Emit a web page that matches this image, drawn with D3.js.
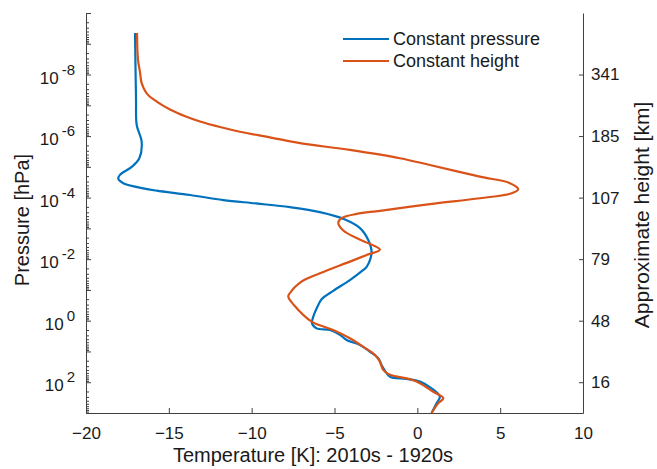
<!DOCTYPE html>
<html>
<head>
<meta charset="utf-8">
<script src="https://cdn.jsdelivr.net/npm/d3@7"></script>
<style>
  body { margin: 0; background: #fff; }
  text { font-family: "Liberation Sans", Arial, sans-serif; fill: #1a1a1a; }
</style>
</head>
<body>
<div class="chart"></div>
<script>
// pressure given as log10(hPa), temperature difference in K
const pressureExpP = [-9.35, -7.17, -6.36, -5.82, -5.28, -5.00, -4.74, -4.61, -4.47, -4.30, -4.225, -4.085, -3.92, -3.81, -3.69, -3.53, -3.29, -3.01, -2.62, -2.23, -1.97, -1.75, -1.65, -1.32, -0.97, -0.70, -0.51, -0.13, 0.08, 0.25, 0.30, 0.46, 0.63, 0.79, 1.01, 1.22, 1.44, 1.62, 1.82, 1.89, 1.98, 2.20, 2.47, 2.68, 3.0];
const tempP = [-17.04, -16.98, -16.94, -16.64, -16.78, -17.24, -17.95, -18.05, -17.75, -16.54, -15.73, -13.72, -11.71, -9.74, -7.69, -5.88, -4.37, -3.46, -2.96, -2.76, -2.86, -3.06, -3.26, -4.07, -5.08, -5.78, -5.98, -6.28, -6.36, -6.08, -5.27, -4.67, -4.27, -3.46, -2.86, -2.36, -2.16, -1.96, -1.65, -0.65, 0.16, 0.86, 1.36, 1.16, 0.86];

const pressureExpH = [-9.35, -8.47, -8.08, -7.72, -7.39, -7.12, -6.864, -6.636, -6.474, -6.295, -6.142, -5.96, -5.77, -5.55, -5.28, -5.06, -4.68, -4.47, -4.27, -4.14, -3.98, -3.79, -3.57, -3.47, -3.34, -3.19, -2.93, -2.61, -2.31, -2.14, -1.92, -1.54, -1.24, -0.90, -0.78, -0.51, 0.03, 0.30, 0.57, 0.85, 1.11, 1.33, 1.60, 1.76, 1.90, 2.03, 2.31, 2.52, 2.68, 3.0];
const tempH = [-16.92, -16.86, -16.74, -16.64, -16.34, -15.73, -14.93, -13.97, -13.12, -11.91, -10.71, -8.90, -7.08, -4.07, -1.05, 0.76, 3.78, 5.59, 6.09, 5.69, 3.78, 0.76, -2.26, -3.66, -4.55, -4.77, -4.47, -3.36, -2.26, -3.04, -4.07, -5.88, -7.08, -7.69, -7.79, -7.45, -6.38, -5.08, -4.07, -3.26, -2.56, -2.26, -2.06, -1.65, -0.45, 0.16, 0.96, 1.57, 1.27, 0.86];

const seriesNames = ["Constant pressure", "Constant height"];
const seriesColors = ["#0072BD", "#D95319"];

const xTicks = [-20, -15, -10, -5, 0, 5, 10];
const pressureLabelExps = [-8, -6, -4, -2, 0, 2];
const heightLabels = ["341", "185", "107", "79", "48", "16"];

const W = 657, H = 469;
const margin = { left: 86, top: 13, right: 74, bottom: 56 };
const width = W - margin.left - margin.right;
const height = H - margin.top - margin.bottom;

const svg = d3.select(".chart").append("svg")
  .attr("width", W)
  .attr("height", H);

const g = svg.append("g")
  .attr("transform", `translate(${margin.left},${margin.top})`);

const x = d3.scaleLinear().domain([-20, 10]).range([0, width]);
const y = d3.scaleLog().domain([1e-10, 1e3]).range([0, height]);

const axisColor = "#404040";

// bottom axis, ticks pointing in
const xAxis = g.append("g")
  .attr("transform", `translate(0,${height})`)
  .call(d3.axisBottom(x).tickValues(xTicks).tickSizeInner(-5).tickSizeOuter(0).tickPadding(14));
xAxis.selectAll("text").attr("font-size", 17).attr("font-family", "Liberation Sans, Arial, sans-serif").attr("fill", "#1a1a1a");

// left axis: decade ticks plus minor ticks
const decades = d3.range(-10, 4);
const minorVals = [];
decades.slice(0, -1).forEach(e => {
  for (let k = 2; k <= 9; k++) minorVals.push(k * Math.pow(10, e));
});

g.append("g")
  .call(d3.axisRight(y).tickValues(minorVals).tickSize(3).tickFormat(""));
g.append("g")
  .call(d3.axisRight(y).tickValues(decades.map(e => Math.pow(10, e))).tickSize(5).tickSizeOuter(0).tickFormat(""));

// left tick labels with superscripts
const yLab = g.append("g").selectAll("text")
  .data(pressureLabelExps)
  .join("text")
  .attr("x", -11)
  .attr("y", d => y(Math.pow(10, d)) + 9)
  .attr("text-anchor", "end")
  .attr("font-size", 17);
yLab.append("tspan").text("10");
yLab.append("tspan")
  .attr("dx", 3)
  .attr("dy", -9)
  .attr("font-size", 15)
  .text(d => String(d));

// right axis
g.append("g")
  .attr("transform", `translate(${width},0)`)
  .call(d3.axisLeft(y).tickValues(pressureLabelExps.map(e => Math.pow(10, e))).tickSize(4).tickSizeOuter(0).tickFormat(""));

g.append("g").selectAll("text")
  .data(heightLabels)
  .join("text")
  .attr("x", width + 8)
  .attr("y", (d, i) => y(Math.pow(10, pressureLabelExps[i])))
  .attr("dy", "0.35em")
  .attr("font-size", 17)
  .text(d => d);

g.selectAll(".domain, .tick line").attr("stroke", axisColor);

// axis titles
svg.append("text")
  .attr("x", 313)
  .attr("y", 462)
  .attr("text-anchor", "middle")
  .attr("font-size", 20)
  .text("Temperature [K]: 2010s - 1920s");

svg.append("text")
  .attr("transform", "translate(29,220) rotate(-90)")
  .attr("text-anchor", "middle")
  .attr("font-size", 20)
  .text("Pressure [hPa]");

svg.append("text")
  .attr("transform", "translate(649,215) rotate(-90)")
  .attr("text-anchor", "middle")
  .attr("font-size", 21)
  .text("Approximate height [km]");

// curves
const series = [
  pressureExpP.map((e, i) => [tempP[i], Math.pow(10, e)]),
  pressureExpH.map((e, i) => [tempH[i], Math.pow(10, e)])
];

const line = d3.line()
  .x(d => x(d[0]))
  .y(d => y(d[1]))
  .curve(d3.curveCatmullRom.alpha(0.5));

g.selectAll(".curve")
  .data(series)
  .join("path")
  .attr("class", "curve")
  .attr("d", line)
  .attr("fill", "none")
  .attr("stroke", (d, i) => seriesColors[i])
  .attr("stroke-width", 2.2);

// legend
const legend = svg.append("g").attr("transform", "translate(343,39)");
const items = legend.selectAll("g")
  .data(seriesNames)
  .join("g")
  .attr("transform", (d, i) => `translate(0,${i * 22})`);
items.append("line")
  .attr("x1", 0).attr("x2", 46)
  .attr("stroke", (d, i) => seriesColors[i])
  .attr("stroke-width", 2.2);
items.append("text")
  .attr("x", 50)
  .attr("dy", "0.35em")
  .attr("font-size", 18)
  .text(d => d);
</script>
</body>
</html>
